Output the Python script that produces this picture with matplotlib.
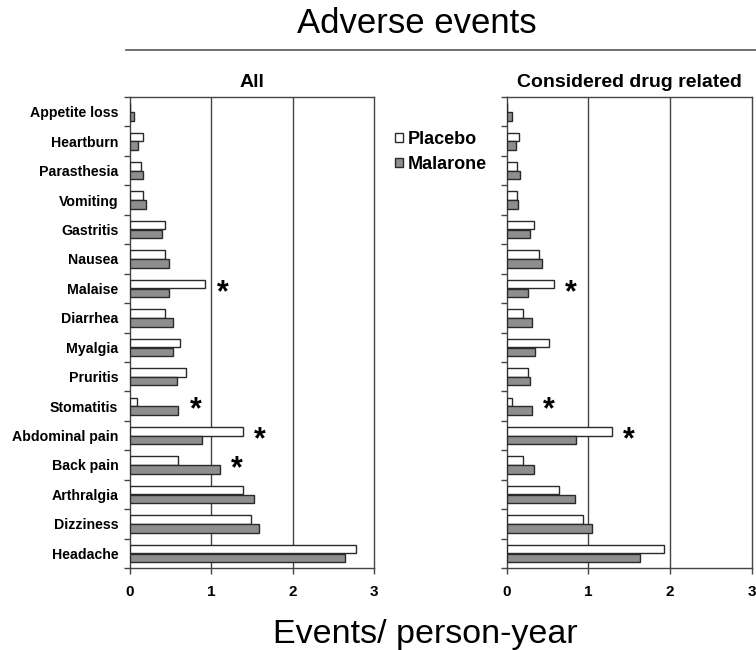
import numpy as np
import matplotlib
matplotlib.use("Agg")
import matplotlib.pyplot as plt
from matplotlib.patches import Patch
from matplotlib.lines import Line2D

plt.rcParams['font.family'] = ['Liberation Sans', 'DejaVu Sans']

categories = ["Appetite loss", "Heartburn", "Parasthesia", "Vomiting", "Gastritis",
              "Nausea", "Malaise", "Diarrhea", "Myalgia", "Pruritis", "Stomatitis",
              "Abdominal pain", "Back pain", "Arthralgia", "Dizziness", "Headache"]

all_placebo = [0.0, 0.17, 0.145, 0.17, 0.43, 0.43, 0.93, 0.44, 0.62, 0.69, 0.09,
               1.39, 0.60, 1.39, 1.49, 2.78]
all_malarone = [0.05, 0.11, 0.165, 0.20, 0.40, 0.49, 0.49, 0.53, 0.53, 0.58, 0.60,
                0.89, 1.11, 1.53, 1.59, 2.65]

rel_placebo = [0.0, 0.147, 0.12, 0.12, 0.34, 0.395, 0.58, 0.20, 0.52, 0.26, 0.07,
               1.29, 0.20, 0.64, 0.94, 1.92]
rel_malarone = [0.06, 0.11, 0.167, 0.14, 0.28, 0.43, 0.26, 0.31, 0.35, 0.28, 0.31,
                0.85, 0.34, 0.84, 1.04, 1.63]

all_signif = ["Malaise", "Stomatitis", "Abdominal pain", "Back pain"]
rel_signif = ["Malaise", "Stomatitis", "Abdominal pain"]

panel_titles = ["All", "Considered drug related"]
series_names = ["Placebo", "Malarone"]
xticks = [0, 1, 2, 3]

W, H = 756, 650
fig = plt.figure(figsize=(W / 100, H / 100), dpi=100)

edge = "#2a2a2a"
gray = "#8e8e8e"
axcol = "#444444"

def px_rect(x0, x1, ytop, ybot):
    return [x0 / W, 1 - ybot / H, (x1 - x0) / W, (ybot - ytop) / H]

axes = [fig.add_axes(px_rect(129.5, 374, 97, 568)),
        fig.add_axes(px_rect(506.7, 751.7, 97, 568))]

data = [(all_placebo, all_malarone, all_signif), (rel_placebo, rel_malarone, rel_signif)]
y = np.arange(len(categories))
h = 0.29

for k, (ax, (pl, ma, sig)) in enumerate(zip(axes, data)):
    ax.barh(y - 0.145, pl, height=h, color="white", edgecolor=edge, linewidth=1.0, zorder=3)
    ax.barh(y + 0.155, ma, height=h, color=gray, edgecolor=edge, linewidth=1.0, zorder=3)
    for name in sig:
        i = categories.index(name)
        xm = max(pl[i], ma[i]) + 0.21
        ax.text(xm, i + 0.15, "*", fontsize=22, fontweight="bold", ha="center",
                va="center", color="black", zorder=4)
    ax.set_xlim(0, 3)
    ax.set_ylim(len(categories) - 0.5, -0.5)
    ax.set_xticks(xticks)
    ax.set_xticklabels([str(t) for t in xticks], fontweight="bold", fontsize=11)
    ax.set_yticks(y)
    ax.set_yticks(np.arange(len(categories) + 1) - 0.5, minor=True)
    if k == 0:
        ax.set_yticklabels(categories, fontweight="bold", fontsize=10.2)
    else:
        ax.set_yticklabels([])
    ax.tick_params(axis="y", which="major", length=0, pad=8)
    ax.tick_params(axis="y", which="minor", length=4, width=1, color=axcol)
    ax.tick_params(axis="x", which="major", length=4, width=1, color=axcol, pad=8)
    for gx in [1, 2]:
        ax.axvline(gx, color=axcol, linewidth=1.0, zorder=1)
    for s in ax.spines.values():
        s.set_color(axcol)
        s.set_linewidth(1.0)
    ax.set_title(panel_titles[k], fontweight="bold", fontsize=14, pad=7)

fig.text(417 / W, 1 - 33 / H, "Adverse events", fontsize=25, ha="center", va="baseline")
fig.add_artist(Line2D([126 / W, 1.0], [1 - 49.5 / H, 1 - 49.5 / H], color="#555555",
                      linewidth=1.2, transform=fig.transFigure))
fig.text(425 / W, 1 - 643 / H, "Events/ person-year", fontsize=24.5, ha="center", va="baseline")

handles = [Patch(facecolor="white", edgecolor=edge, linewidth=1.0),
           Patch(facecolor=gray, edgecolor=edge, linewidth=1.0)]
fig.legend(handles, series_names, loc="upper left", bbox_to_anchor=(395 / W, 1 - 131 / H),
           frameon=False, borderpad=0, borderaxespad=0, handlelength=0.42, handleheight=0.42,
           handletextpad=0.3, labelspacing=0.45, prop={"weight": "bold", "size": 13})

fig.savefig("out.png", dpi=100)
